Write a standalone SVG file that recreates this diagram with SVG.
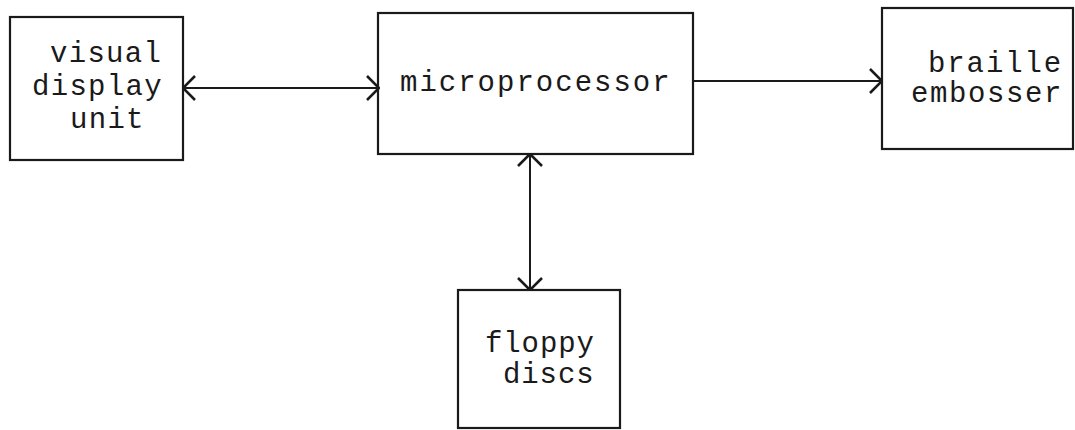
<svg xmlns="http://www.w3.org/2000/svg" width="1075" height="430" viewBox="0 0 1075 430">
<style>
.box{fill:none;stroke:#1a1a1a;stroke-width:2.2}
.t{font-family:"Liberation Mono","DejaVu Sans Mono",monospace;font-size:29px;fill:#1a1a1a}
.c{fill:none;stroke:#1a1a1a;stroke-width:2}
</style>
<defs>
<marker id="ah" viewBox="0 0 14 28" refX="13" refY="14" markerWidth="14" markerHeight="28" markerUnits="userSpaceOnUse" orient="auto-start-reverse">
<path d="M1,2 L13,14 L1,26" fill="none" stroke="#1a1a1a" stroke-width="2.6"/>
</marker>
</defs>
<rect width="1075" height="430" fill="#fff"/>
<g id="connectors">
<line class="c" x1="183" y1="88" x2="379" y2="88" marker-start="url(#ah)" marker-end="url(#ah)"/>
<line class="c" x1="693" y1="81" x2="882" y2="81" marker-end="url(#ah)"/>
<line class="c" x1="530" y1="154" x2="530" y2="290" marker-start="url(#ah)" marker-end="url(#ah)"/>
</g>
<g id="vdu">
<rect class="box" x="10" y="17" width="173" height="143"/>
<text class="t" x="50" y="62" style="letter-spacing:1.3px">visual</text>
<text class="t" x="32" y="95" style="letter-spacing:1.3px">display</text>
<text class="t" x="70" y="128" style="letter-spacing:1.3px">unit</text>
</g>
<g id="microprocessor">
<rect class="box" x="378" y="13" width="315" height="141"/>
<text class="t" x="400" y="91" style="letter-spacing:2px">microprocessor</text>
</g>
<g id="braille">
<rect class="box" x="882" y="8" width="191" height="141"/>
<text class="t" x="928" y="72" style="letter-spacing:1.9px">braille</text>
<text class="t" x="911" y="102" style="letter-spacing:1.6px">embosser</text>
</g>
<g id="floppy">
<rect class="box" x="458" y="290" width="162" height="138"/>
<text class="t" x="485" y="352" style="letter-spacing:0.9px">floppy</text>
<text class="t" x="503" y="383" style="letter-spacing:0.9px">discs</text>
</g>
</svg>
